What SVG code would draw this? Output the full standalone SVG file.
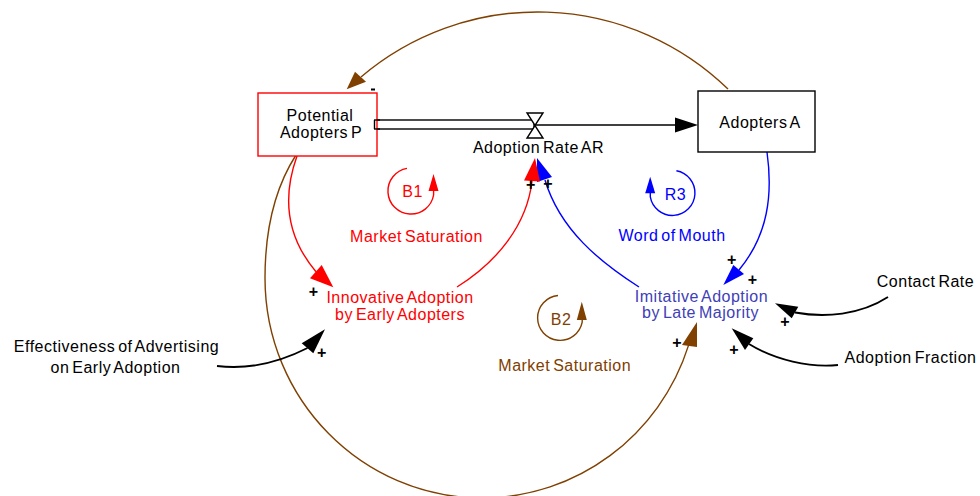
<svg xmlns="http://www.w3.org/2000/svg" width="980" height="496" viewBox="0 0 980 496">
  <style>
    text { font-family: "Liberation Sans", Arial, sans-serif; font-size: 16px; letter-spacing: 0.5px; word-spacing: -2px; text-anchor: middle; }
    .k { fill: #000; }
    .red { fill: #ff0000; }
    .blue { fill: #0000ff; }
    .slate { fill: #4040b8; }
    .brown { fill: #7f4000; }
    .pol { font-size: 16px; font-weight: bold; letter-spacing: 0; fill: #000; }
    .lk { fill: none; stroke-width: 1.4; }
    .lred { stroke: #ff0000; }
    .lblue { stroke: #0000ff; }
    .lbrown { stroke: #7f4000; }
    .lblack { stroke: #000; stroke-width: 1.8; }
  </style>

  <!-- connectors -->
  <g id="connectors">
    <!-- large balancing loop arcs -->
    <path class="lk lbrown" d="M728,89 A273,273 0 0 0 361,77"/>
    <polygon class="brown" points="346.7,89.3 355,71.7 366,81.7"/>
    <path class="lk lbrown" d="M296,155 C273.1,190.7 265,235.5 265,278 C265,399.5 362.2,498 482,498 C576.4,498 660,436.1 688.7,344.9"/>
    <polygon class="brown" points="697,322 682,345 697,347"/>

    <!-- flow pipe and valve -->
    <rect x="374" y="120" width="160" height="9" fill="#fff" stroke="#000" stroke-width="1.4"/>
    <line x1="535" y1="125" x2="676" y2="125" stroke="#000" stroke-width="1.6"/>
    <polygon points="698,125 675,117.5 675,132.5" fill="#000"/>
    <polygon points="527,113 543,113 535,125.5" fill="#fff" stroke="#000" stroke-width="1.4"/>
    <polygon points="527,138 543,138 535,125.5" fill="#fff" stroke="#000" stroke-width="1.4"/>

    <!-- Potential Adopters -> Innovative Adoption -->
    <path class="lk lred" d="M297,156 C283,195 285,235 316,271.7"/>
    <polygon class="red" points="333.3,287.3 310,278.3 321.7,265"/>

    <!-- Imitative Adoption -> Adoption Rate -->
    <path class="lk lblue" d="M639,287 C600,262 560,230 545,180"/>
    <polygon class="blue" points="537,158 552,177 537,182"/>

    <!-- Innovative Adoption -> Adoption Rate -->
    <path class="lk lred" d="M457,287 C497,262 527,225 532,181"/>
    <polygon class="red" points="535,158 524,180.5 540,181.5"/>

    <!-- Adopters A -> Imitative Adoption -->
    <path class="lk lblue" d="M767,152 C773,195 768,235 739,270"/>
    <polygon class="blue" points="723.3,285 733.3,265 744,274"/>

    <!-- exogenous inputs -->
    <path class="lk lblack" d="M217,366 C250,370 280,362 307.5,348"/>
    <polygon points="325,329.3 301.7,343.3 313.3,353.3" fill="#000"/>
    <path class="lk lblack" d="M888,297 C860,315 825,318 795,312.5"/>
    <polygon points="775,303.3 798.3,306.7 791.7,318.3" fill="#000"/>
    <path class="lk lblack" d="M838,365 C810,368 775,360 749,344"/>
    <polygon points="731.7,328.3 753.3,338.3 745,350" fill="#000"/>

    <!-- loop markers -->
    <path class="lk lred" d="M407,168.4 A23,23 0 1 0 433.6,195 L433.6,190"/>
    <polygon class="red" points="433.5,174 428.5,191 438.5,191"/>
    <path class="lk lblue" d="M676.4,170.8 A22.5,22.5 0 1 1 650.3,196.9 L650.3,192"/>
    <polygon class="blue" points="650.2,176.7 645.2,193.3 655.2,193.3"/>
    <path class="lk lbrown" d="M558,295.5 A22.5,22.5 0 1 0 582.2,322.2 L582.2,318"/>
    <polygon class="brown" points="581.8,301.7 576.8,320 586.8,320"/>

    <!-- polarity signs -->
    <rect x="371" y="88.5" width="4" height="2" fill="#000"/>
    <text class="pol" x="313.3" y="297.3">+</text>
    <text class="pol" x="321.7" y="358.3">+</text>
    <text class="pol" x="530.7" y="189.9">+</text>
    <text class="pol" x="548" y="188.6">+</text>
    <text class="pol" x="731.7" y="264.9">+</text>
    <text class="pol" x="752.3" y="284.9">+</text>
    <text class="pol" x="785" y="327.3">+</text>
    <text class="pol" x="734" y="354.9">+</text>
    <text class="pol" x="677" y="347.6">+</text>
  </g>

  <!-- stocks -->
  <g id="potential-adopters">
    <rect x="258" y="93" width="119" height="63" fill="#fff" stroke="#ff0000" stroke-width="1.4"/>
    <text class="k" x="320" y="120.7">Potential</text>
    <text class="k" x="321" y="138.3">Adopters P</text>
  </g>
  <!-- pipe end drawn over the stock border -->
  <g id="pipe-end">
    <line x1="374.5" y1="120" x2="374.5" y2="129" stroke="#000" stroke-width="1.4"/>
    <line x1="374" y1="120" x2="380" y2="120" stroke="#000" stroke-width="1.4"/>
    <line x1="374" y1="129" x2="380" y2="129" stroke="#000" stroke-width="1.4"/>
  </g>
  <g id="adopters">
    <rect x="698" y="91" width="117" height="61" fill="#fff" stroke="#000" stroke-width="1.4"/>
    <text class="k" x="760" y="127.7">Adopters A</text>
  </g>

  <!-- flow -->
  <g id="adoption-rate">
    <text class="k" x="538.5" y="153.3">Adoption Rate AR</text>
  </g>

  <!-- auxiliaries -->
  <g id="innovative-adoption">
    <text class="red" x="400" y="302.7">Innovative Adoption</text>
    <text class="red" x="400" y="320">by Early Adopters</text>
  </g>
  <g id="imitative-adoption">
    <text class="slate" x="701.5" y="301.7">Imitative Adoption</text>
    <text class="slate" x="700.5" y="318.3">by Late Majority</text>
  </g>
  <g id="effectiveness">
    <text class="k" x="116.5" y="351.7">Effectiveness of Advertising</text>
    <text class="k" x="115.5" y="373.3">on Early Adoption</text>
  </g>
  <g id="contact-rate">
    <text class="k" x="925.5" y="287.3">Contact Rate</text>
  </g>
  <g id="adoption-fraction">
    <text class="k" x="910.5" y="362.7">Adoption Fraction</text>
  </g>

  <!-- loop labels -->
  <g id="loop-b1">
    <text class="red" x="412.5" y="196.7">B1</text>
    <text class="red" x="416.5" y="241.7">Market Saturation</text>
  </g>
  <g id="loop-r3">
    <text class="blue" x="675.5" y="200">R3</text>
    <text class="blue" x="672" y="240.7">Word of Mouth</text>
  </g>
  <g id="loop-b2">
    <text class="brown" x="561" y="325">B2</text>
    <text class="brown" x="564.7" y="370.7">Market Saturation</text>
  </g>
</svg>
